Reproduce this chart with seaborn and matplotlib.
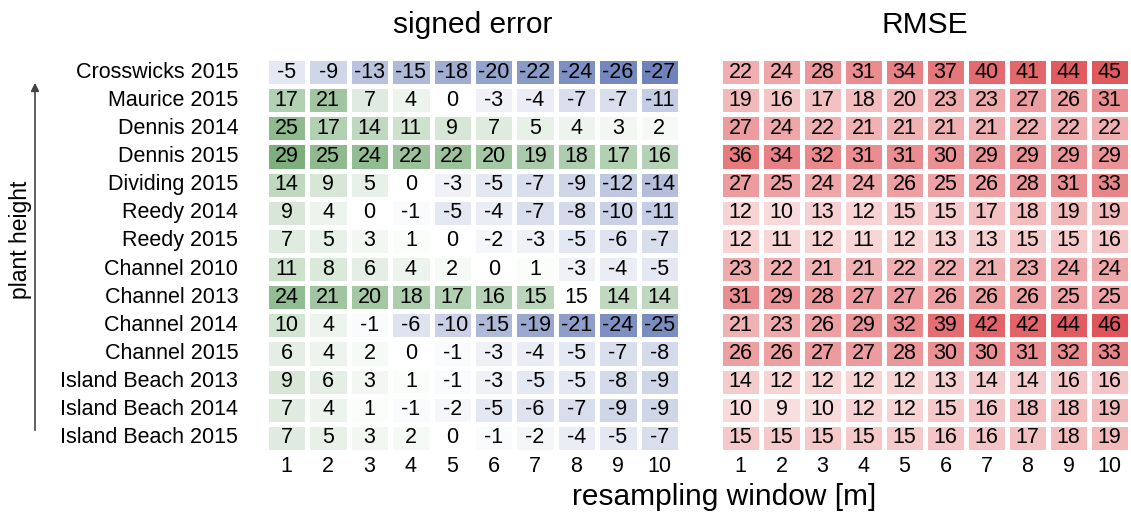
import numpy as np
import pandas as pd
import matplotlib
matplotlib.use("Agg")
import matplotlib.pyplot as plt
from matplotlib.colors import LinearSegmentedColormap
import seaborn as sns

sites = ["Crosswicks 2015", "Maurice 2015", "Dennis 2014", "Dennis 2015",
         "Dividing 2015", "Reedy 2014", "Reedy 2015", "Channel 2010",
         "Channel 2013", "Channel 2014", "Channel 2015", "Island Beach 2013",
         "Island Beach 2014", "Island Beach 2015"]
windows = [1, 2, 3, 4, 5, 6, 7, 8, 9, 10]

signed_error = [
    [-5, -9, -13, -15, -18, -20, -22, -24, -26, -27],
    [17, 21, 7, 4, 0, -3, -4, -7, -7, -11],
    [25, 17, 14, 11, 9, 7, 5, 4, 3, 2],
    [29, 25, 24, 22, 22, 20, 19, 18, 17, 16],
    [14, 9, 5, 0, -3, -5, -7, -9, -12, -14],
    [9, 4, 0, -1, -5, -4, -7, -8, -10, -11],
    [7, 5, 3, 1, 0, -2, -3, -5, -6, -7],
    [11, 8, 6, 4, 2, 0, 1, -3, -4, -5],
    [24, 21, 20, 18, 17, 16, 15, 15, 14, 14],
    [10, 4, -1, -6, -10, -15, -19, -21, -24, -25],
    [6, 4, 2, 0, -1, -3, -4, -5, -7, -8],
    [9, 6, 3, 1, -1, -3, -5, -5, -8, -9],
    [7, 4, 1, -1, -2, -5, -6, -7, -9, -9],
    [7, 5, 3, 2, 0, -1, -2, -4, -5, -7],
]

rmse = [
    [22, 24, 28, 31, 34, 37, 40, 41, 44, 45],
    [19, 16, 17, 18, 20, 23, 23, 27, 26, 31],
    [27, 24, 22, 21, 21, 21, 21, 22, 22, 22],
    [36, 34, 32, 31, 31, 30, 29, 29, 29, 29],
    [27, 25, 24, 24, 26, 25, 26, 28, 31, 33],
    [12, 10, 13, 12, 15, 15, 17, 18, 19, 19],
    [12, 11, 12, 11, 12, 13, 13, 15, 15, 16],
    [23, 22, 21, 21, 22, 22, 21, 23, 24, 24],
    [31, 29, 28, 27, 27, 26, 26, 26, 25, 25],
    [21, 23, 26, 29, 32, 39, 42, 42, 44, 46],
    [26, 26, 27, 27, 28, 30, 30, 31, 32, 33],
    [14, 12, 12, 12, 12, 13, 14, 14, 16, 16],
    [10, 9, 10, 12, 12, 15, 16, 18, 18, 19],
    [15, 15, 15, 15, 15, 16, 16, 17, 18, 19],
]

# cell left unfilled in the signed-error panel (row, column)
blank_cell = (8, 7)

sns.set_theme(style="white")
plt.rcParams["font.family"] = ["Liberation Sans", "DejaVu Sans"]
plt.rcParams["text.color"] = "black"
plt.rcParams["xtick.color"] = "black"
plt.rcParams["ytick.color"] = "black"

se_df = pd.DataFrame(signed_error, index=sites, columns=windows)
rm_df = pd.DataFrame(rmse, index=sites, columns=windows)

se_cmap = LinearSegmentedColormap.from_list(
    "se", [(0.0, "#4f68ab"), (0.5, "#ffffff"), (1.0, "#6aa46a")])
rm_cmap = LinearSegmentedColormap.from_list(
    "rm", [(0.0, "#ffffff"), (1.0, "#db3f44")])

fig = plt.figure(figsize=(11.31, 5.15), dpi=100)
ax1 = fig.add_axes([266 / 1131, 1 - 452 / 515, 414 / 1131, 394 / 515])
ax2 = fig.add_axes([720 / 1131, 1 - 452 / 515, 410 / 1131, 394 / 515])

mask = np.zeros(se_df.shape, dtype=bool)
mask[blank_cell] = True

annot_kw = {"fontsize": 15.5, "color": "black"}
sns.heatmap(se_df, ax=ax1, cmap=se_cmap, vmin=-33, vmax=33, center=0,
            annot=True, fmt="d", annot_kws=annot_kw, cbar=False,
            linewidths=3.5, linecolor="white", mask=mask)
r, c = blank_cell
ax1.text(c + 0.5, r + 0.5, str(se_df.iloc[r, c]), ha="center", va="center",
         **annot_kw)

sns.heatmap(rm_df, ax=ax2, cmap=rm_cmap, vmin=0, vmax=52,
            annot=True, fmt="d", annot_kws=annot_kw, cbar=False,
            linewidths=3.5, linecolor="white")

for ax in (ax1, ax2):
    ax.tick_params(axis="both", length=0, labelsize=15.5)
    ax.tick_params(axis="x", pad=3)
    ax.set_xlabel("")
    ax.set_ylabel("")
    ax.set_xticklabels(windows, rotation=0)

ax1.tick_params(axis="y", pad=20)
ax1.set_yticklabels(sites, rotation=0)
ax2.set_yticks([])

ax1.set_title("signed error", fontsize=21.5, pad=18)
ax2.set_title("RMSE", fontsize=21.5, pad=18)

fig.text(724 / 1131, 1 - 497 / 515, "resampling window [m]",
         ha="center", va="center", fontsize=21.5)
fig.text(21 / 1131, 1 - 240 / 515, "plant height", rotation=90,
         ha="center", va="center", fontsize=16.5)
fig.add_artist(matplotlib.patches.FancyArrowPatch(
    (35 / 1131, 1 - 433 / 515), (35 / 1131, 1 - 80 / 515),
    transform=fig.transFigure, arrowstyle="-|>", mutation_scale=12,
    color="#444444", linewidth=1.2))

fig.savefig("out.png", dpi=100, facecolor="white")
